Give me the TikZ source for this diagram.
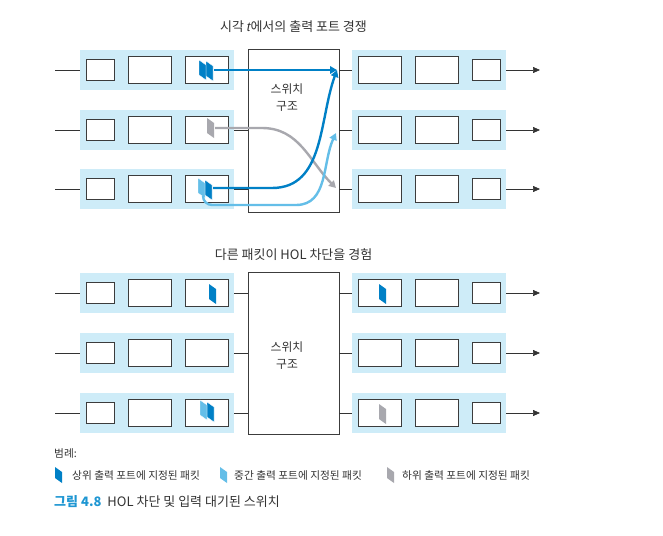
\documentclass[tikz,border=0pt]{standalone}
\usepackage{fontspec}
\setmainfont{Noto Sans CJK KR}
\newfontfamily\latinfont{Liberation Sans}
\usetikzlibrary{arrows.meta}
\definecolor{bandblue}{RGB}{206,236,248}
\definecolor{boxgrey}{RGB}{60,60,60}
\definecolor{pdark}{RGB}{0,128,198}
\definecolor{plight}{RGB}{100,190,232}
\definecolor{pgrey}{RGB}{168,168,174}
\definecolor{capblue}{RGB}{30,150,210}

\begin{document}
\begin{tikzpicture}[x=1pt,y=-1pt]
	\tikzstyle{every node}+=[inner sep=0pt]
	\tikzstyle{band}=[fill=bandblue, minimum width=154pt, minimum height=40pt]
	\tikzstyle{qbox}=[draw=boxgrey, line width=0.8pt, fill=white, minimum height=27pt, minimum width=43pt]
	\tikzstyle{qsmall}=[qbox, minimum height=21pt, minimum width=28pt]
	\tikzstyle{fabric}=[draw=boxgrey, line width=0.8pt, fill=white, minimum width=91pt]
	\tikzstyle{wire}=[draw=black!80, line width=0.7pt]
	\tikzstyle{outwire}=[wire, -{Triangle[length=7pt,width=6pt]}]
	\tikzstyle{hot}=[line width=2.4pt, -{Triangle[length=7pt,width=7.5pt]}]
	\tikzstyle{heading}=[font=\fontsize{13}{16}\selectfont, text=black!80]
	\tikzstyle{legend}=[font=\fontsize{10.7}{13}\selectfont, text=black!80, anchor=west]
	\useasboundingbox (0,0) rectangle (663,535);
	% switch fabrics
	\node[fabric, minimum height=163pt] (swt) at (293.5,130.5) {};
	\node[fabric, minimum height=162pt] (swb) at (293.5,353) {};
	\node[heading, align=center, font=\fontsize{11.8}{17}\selectfont] (swtlabel) at (287,98) {스위치\\구조};
	\node[heading, align=center, font=\fontsize{11.8}{17}\selectfont] (swblabel) at (287,356) {스위치\\구조};
	\node[heading] (ttitle) at (293.5,27) {시각 {\latinfont\itshape t}에서의 출력 포트 경쟁};
	\node[heading] (btitle) at (293.5,255) {다른 패킷이 HOL 차단을 경험};
	% input and output queues
	\foreach \i/\y/\s in {1/70/t,2/130/t,3/189/t,4/293/b,5/353/b,6/413/b} {
		\node[band] (in\i) at (157,\y) {};
		\node[qsmall] (in\i a) at (100,\y) {};
		\node[qbox] (in\i b) at (149.5,\y) {};
		\node[qbox] (in\i c) at (206.5,\y) {};
		\node[band] (out\i) at (429,\y) {};
		\node[qbox] (out\i a) at (380,\y) {};
		\node[qbox] (out\i b) at (437,\y) {};
		\node[qsmall] (out\i c) at (486,\y) {};
		\coordinate (src\i) at (55,\y);
		\coordinate (dst\i) at (540,\y);
		\draw[wire] (src\i) -- (in\i.west);
		\draw[wire] (in\i.east) -- (in\i.east -| sw\s.west);
		\draw[wire] (sw\s.east |- out\i.west) -- (out\i.west);
		\draw[outwire] (out\i.east) -- (dst\i);
	}
	% packets, top
	\fill[pdark, draw=white, line width=0.3pt] (206,61) -- ++(7,5) -- ++(0,15) -- ++(-7,-5) -- cycle;
	\fill[pdark, draw=white, line width=0.3pt] (199,60) -- ++(7,5) -- ++(0,15) -- ++(-7,-5) -- cycle;
	\fill[pgrey] (207,118) -- ++(7,5) -- ++(0,15) -- ++(-7,-5) -- cycle;
	\fill[pdark, draw=white, line width=0.3pt] (205,180) -- ++(7,5) -- ++(0,15) -- ++(-7,-5) -- cycle;
	\fill[plight, draw=white, line width=0.3pt] (198,178) -- ++(7,5) -- ++(0,15) -- ++(-7,-5) -- cycle;
	% packets, bottom
	\fill[pdark] (209,284) -- ++(7,5) -- ++(0,15) -- ++(-7,-5) -- cycle;
	\fill[pdark, draw=white, line width=0.3pt] (207,402) -- ++(7,5) -- ++(0,15) -- ++(-7,-5) -- cycle;
	\fill[plight, draw=white, line width=0.3pt] (200,400) -- ++(7,5) -- ++(0,15) -- ++(-7,-5) -- cycle;
	\fill[pdark] (379,284) -- ++(7,5) -- ++(0,15) -- ++(-7,-5) -- cycle;
	\fill[pgrey] (379,404) -- ++(7,5) -- ++(0,15) -- ++(-7,-5) -- cycle;
	% contention arrows
	\coordinate (pk1) at (214,70);
	\coordinate (pk2) at (215,128);
	\coordinate (pk3d) at (213,188);
	\coordinate (pk3l) at (203,196);
	\coordinate (t1) at (337,70);
	\coordinate (t2) at (336,133);
	\coordinate (t3) at (336,188);
	\draw[hot, pgrey] (pk2) -- (262,128) to[out=0,in=135] (t3);
	\draw[hot, plight] (pk3l) to[out=-90,in=180] (212,205) -- (296,205) to[out=0,in=-115] (t2);
	\draw[hot, pdark] (pk3d) -- (272,188) to[out=0,in=-110] (t1);
	\draw[hot, pdark] (pk1) -- (t1);
	% legend
	\node[legend] (lgtitle) at (54,453) {범례:};
	\fill[pdark] (55,467) -- ++(7,5) -- ++(0,11) -- ++(-7,-5) -- cycle;
	\node[legend] (lgdark) at (72,475) {상위 출력 포트에 지정된 패킷};
	\fill[plight] (220,467) -- ++(7,5) -- ++(0,11) -- ++(-7,-5) -- cycle;
	\node[legend] (lglight) at (234,475) {중간 출력 포트에 지정된 패킷};
	\fill[pgrey] (387,467) -- ++(7,5) -- ++(0,11) -- ++(-7,-5) -- cycle;
	\node[legend] (lggrey) at (402,475) {하위 출력 포트에 지정된 패킷};
	% caption
	\node[anchor=west, font=\fontsize{13}{15}\selectfont, text=black!80] (caption) at (54,502) {{\color{capblue}\bfseries 그림 4.8}\hspace{6pt}HOL 차단 및 입력 대기된 스위치};
\end{tikzpicture}
\end{document}
